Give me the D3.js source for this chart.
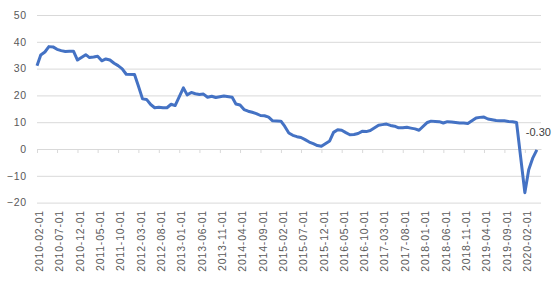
<!DOCTYPE html>
<html>
<head>
<meta charset="utf-8">
<script src="https://cdn.jsdelivr.net/npm/d3@7"></script>
<style>
  body { margin: 0; background: #fff; }
  svg { display: block; font-family: "Liberation Sans", Arial, sans-serif; }
</style>
</head>
<body>
<div id="chart"></div>
<script>
// monthly values (Feb..Dec each year, Jan-Feb reported together)
var months = ["02","03","04","05","06","07","08","09","10","11","12"];
var v2010 = [31.1, 35.1, 36.2, 38.2, 38.1, 37.2, 36.7, 36.4, 36.5, 36.5, 33.2];
var v2011 = [35.2, 34.1, 34.3, 34.6, 32.9, 33.6, 33.2, 32.0, 31.1, 29.9, 27.9];
var v2012 = [27.8, 23.5, 18.7, 18.5, 16.6, 15.4, 15.6, 15.4, 15.4, 16.7, 16.2];
var v2013 = [22.8, 20.2, 21.1, 20.6, 20.3, 20.5, 19.3, 19.7, 19.2, 19.5, 19.8];
var v2014 = [19.3, 16.8, 16.4, 14.7, 14.1, 13.7, 13.2, 12.5, 12.4, 11.9, 10.5];
var v2015 = [10.4, 8.5, 6.0, 5.1, 4.6, 4.3, 3.5, 2.6, 2.0, 1.3, 1.0];
var v2016 = [3.0, 6.2, 7.2, 7.0, 6.1, 5.3, 5.4, 5.8, 6.6, 6.5, 6.9];
var v2017 = [8.9, 9.1, 9.3, 8.8, 8.5, 7.9, 7.9, 8.1, 7.8, 7.5, 7.0];
var v2018 = [9.9, 10.4, 10.3, 10.2, 9.7, 10.2, 10.1, 9.9, 9.7, 9.7, 9.5];
var v2019 = [11.6, 11.8, 11.9, 11.2, 10.9, 10.6, 10.5, 10.5, 10.3, 10.2, 9.9];
var v2020 = [-16.3, -7.7, -3.3, -0.3];
var years = [2010, 2011, 2012, 2013, 2014, 2015, 2016, 2017, 2018, 2019, 2020];
var yearValues = [v2010, v2011, v2012, v2013, v2014, v2015, v2016, v2017, v2018, v2019, v2020];

var xTickLabels = ["2010-02-01","2010-07-01","2010-12-01","2011-05-01","2011-10-01",
  "2012-03-01","2012-08-01","2013-01-01","2013-06-01","2013-11-01","2014-04-01",
  "2014-09-01","2015-02-01","2015-07-01","2015-12-01","2016-05-01","2016-10-01",
  "2017-03-01","2017-08-01","2018-01-01","2018-06-01","2018-11-01","2019-04-01",
  "2019-09-01","2020-02-01"];
var yTicks = [-20, -10, 0, 10, 20, 30, 40, 50];

var w = 556, h = 288;
var parse = d3.timeParse("%Y-%m-%d");

var data = [];
years.forEach(function(yr, i) {
  yearValues[i].forEach(function(v, j) {
    data.push({date: parse(yr + "-" + months[j] + "-01"), value: v});
  });
});

var xScale = d3.scaleTime()
    .domain([parse("2010-02-01"), parse("2020-06-01")])
    .range([37, 541]);

var yScale = d3.scaleLinear()
    .domain([-20, 50])
    .range([202.6, 15]);

var svg = d3.select("#chart")
  .append("svg")
    .attr("width", w)
    .attr("height", h);

// gridlines + y labels
var yAxis = d3.axisLeft(yScale)
    .tickValues(yTicks)
    .tickSize(-(541 - 37))
    .tickPadding(10);

var gy = svg.append("g")
    .attr("transform", "translate(37,0)")
    .call(yAxis);
gy.select(".domain").remove();
gy.selectAll("line").attr("stroke", "#d9d9d9");
gy.selectAll("text")
    .attr("fill", "#595959")
    .attr("font-size", "10.5px")
    .style("letter-spacing", "0.8px");

// zero axis with tick marks
var tickDates = xTickLabels.map(parse);
var xAxis = d3.axisBottom(xScale)
    .tickValues(tickDates)
    .tickSize(4)
    .tickSizeOuter(0)
    .tickFormat("");

var gx = svg.append("g")
    .attr("transform", "translate(0," + yScale(0) + ")")
    .call(xAxis);
gx.select(".domain").attr("stroke", "#d9d9d9");
gx.selectAll("line").attr("stroke", "#d9d9d9");

// rotated labels at bottom
var xLabels = d3.axisBottom(xScale)
    .tickValues(tickDates)
    .tickSize(0)
    .tickFormat(function(d, i) { return xTickLabels[i]; });

var gl = svg.append("g")
    .attr("transform", "translate(0,210)")
    .call(xLabels);
gl.select(".domain").remove();
gl.selectAll("text")
    .attr("fill", "#595959")
    .attr("font-size", "10.5px")
    .style("letter-spacing", "0.8px")
    .attr("text-anchor", "end")
    .attr("transform", "rotate(-90)")
    .attr("x", 0)
    .attr("y", 2)
    .attr("dy", "0.35em");

// line
var line = d3.line()
    .x(function(d) { return xScale(d.date); })
    .y(function(d) { return yScale(d.value); });

svg.append("path")
    .datum(data)
    .attr("fill", "none")
    .attr("stroke", "#4472C4")
    .attr("stroke-width", 3)
    .attr("stroke-linejoin", "round")
    .attr("d", line);

// last value label
var last = data[data.length - 1];
svg.append("text")
    .attr("x", xScale(last.date) - 11)
    .attr("y", yScale(last.value) - 14)
    .attr("font-size", "11px")
    .attr("fill", "#404040")
    .text(last.value.toFixed(2));
</script>
</body>
</html>
